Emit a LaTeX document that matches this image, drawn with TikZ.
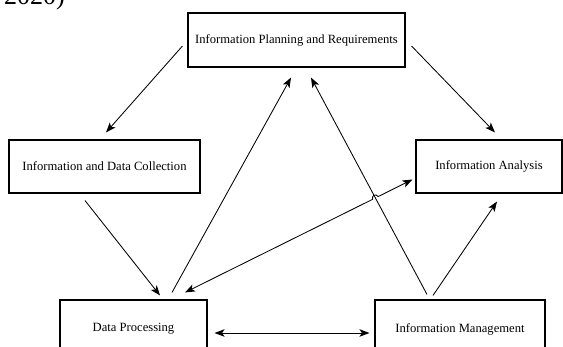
\documentclass[tikz,border=0pt]{standalone}
\usepackage{fontspec}
\setmainfont{Liberation Serif}
\usetikzlibrary{arrows.meta,calc}
\begin{document}
\begin{tikzpicture}[x=1pt,y=-1pt,
  box/.style={draw,line width=1.1pt,minimum width=#1,inner sep=0pt},
  lbl/.style={font=\fontsize{12.6}{14}\selectfont},
  conn/.style={line width=0.85pt},
  tip/.style={-{Stealth[length=10pt,width=7.5pt,inset=2.5pt]}},
  tips/.style={{Stealth[length=10pt,width=7.5pt,inset=2.5pt]}-{Stealth[length=10pt,width=7.5pt,inset=2.5pt]}}]
\useasboundingbox (0,0) rectangle (563,347);
% partly cut caption fragment
\node[anchor=base west,inner sep=0pt,font=\fontsize{26}{28}\selectfont] (cap) at (4,5) {2020)};
% boxes
\node[box=217pt,minimum height=54pt,lbl] (top) at (296.5,40) {Information Planning and Requirements};
\node[box=191pt,minimum height=53pt,lbl] (left) at (104.5,166.5) {Information and Data Collection};
\node[box=146pt,minimum height=53pt,lbl] (right) at (489,166.5) {Information Analysis};
\node[box=147pt,minimum height=58pt,lbl] (dp) at (133.5,329) {Data Processing};
\node[box=170pt,minimum height=58pt,lbl] (im) at (460,329) {Information Management};
% connector end points
\coordinate (s1) at ($(top.west)+(-5,6)$);
\coordinate (e1) at ($(left.north)+(1.5,-7)$);
\coordinate (s2) at ($(top.east)+(6,6)$);
\coordinate (e2) at ($(right.north)+(6,-7)$);
\coordinate (s3) at ($(left.south)+(-19.5,7)$);
\coordinate (e3) at ($(dp.north)+(26.5,-4)$);
\coordinate (s4) at ($(dp.north)+(38.5,-7)$);
\coordinate (e4) at ($(top.south)+(-5.5,10)$);
\coordinate (s5) at ($(im.north)+(-33,-5)$);
\coordinate (e5) at ($(top.south)+(14.5,10)$);
\coordinate (s6) at ($(im.north)+(-27,-4)$);
\coordinate (e6) at ($(right.south)+(8,8)$);
\coordinate (s7) at ($(dp.east)+(7,4)$);
\coordinate (e7) at ($(im.west)+(-5,4)$);
\coordinate (s8) at ($(dp.north)+(51.5,-7)$);
\coordinate (e8) at ($(right.west)+(-3,13)$);
% connectors
\draw[conn,tip] (s1) -- (e1);
\draw[conn,tip] (s2) -- (e2);
\draw[conn,tip] (s3) -- (e3);
\draw[conn,tip] (s4) -- (e4);
\draw[conn,tip] (s5) -- (e5);
\draw[conn,tip] (s6) -- (e6);
\draw[conn,tips] (s7) -- (e7);
\coordinate (x8) at (intersection of s8--e8 and s5--e5);
\coordinate (h1) at ($(x8)!3pt!(s8)$);
\coordinate (h2) at ($(x8)!3pt!(e8)$);
\draw[conn,tips] (s8) -- (h1) .. controls ($(h1)!4pt!90:(h2)$) and ($(h2)!4pt!-90:(h1)$) .. (h2) -- (e8);
\end{tikzpicture}
\end{document}
